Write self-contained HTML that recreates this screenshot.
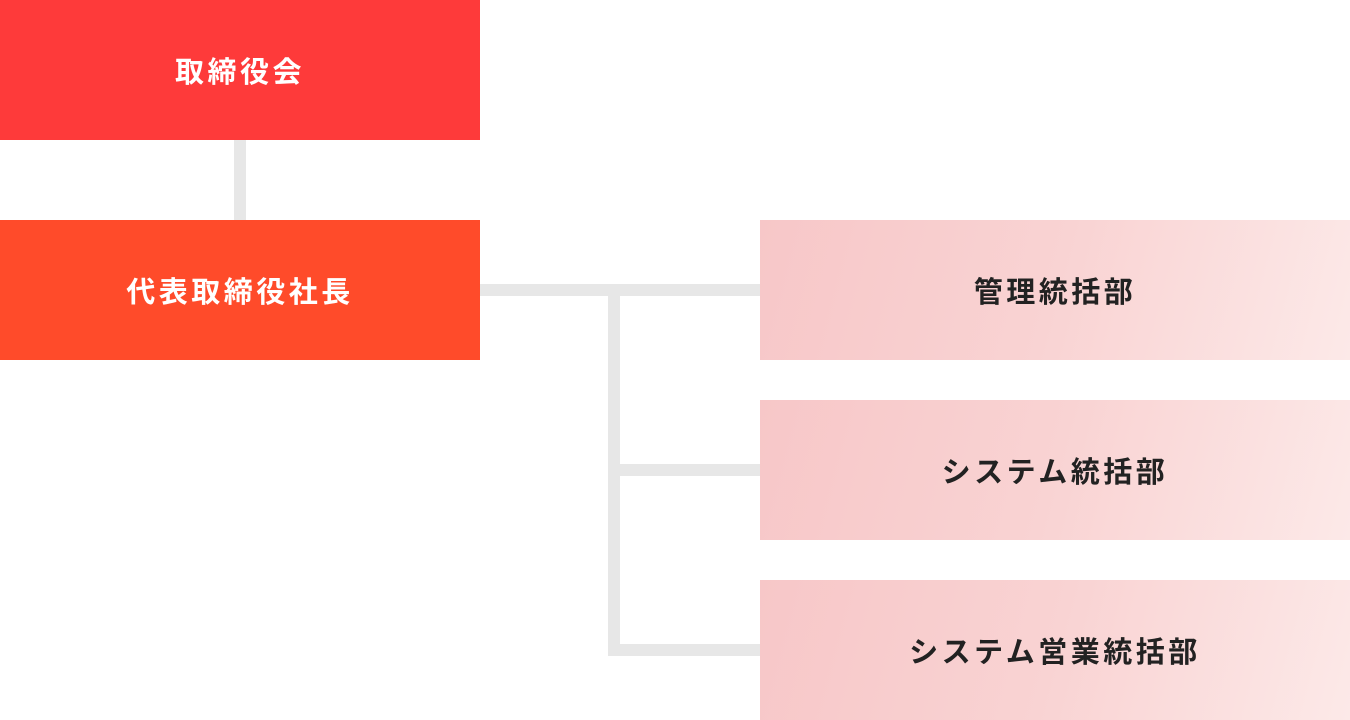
<!DOCTYPE html>
<html><head><meta charset="utf-8"><style>
body{margin:0;width:1350px;height:720px;background:#fff;position:relative;overflow:hidden;font-family:"Liberation Sans","Noto Sans CJK JP",sans-serif;font-weight:bold}
.b{position:absolute;display:flex;align-items:center;justify-content:center;letter-spacing:3.5px;font-size:29px}
.l{position:absolute;background:#e7e7e7}
.r{left:760px;width:590px;height:140px;background:linear-gradient(105deg,#f7c7c8 0%,#f9d3d3 50%,#fce9e8 100%);color:#222}
</style></head><body>
<div class="b" style="left:0;top:0;width:480px;height:140px;background:#fe3a3a;color:#fff">取締役会</div>
<div class="l" style="left:234px;top:140px;width:12px;height:80px"></div>
<div class="b" style="left:0;top:220px;width:480px;height:140px;background:#ff4b2a;color:#fff">代表取締役社長</div>
<div class="l" style="left:480px;top:284px;width:280px;height:12px"></div>
<div class="l" style="left:608px;top:290px;width:12px;height:366px"></div>
<div class="l" style="left:608px;top:464px;width:152px;height:12px"></div>
<div class="l" style="left:608px;top:644px;width:152px;height:12px"></div>
<div class="b r" style="top:220px">管理統括部</div>
<div class="b r" style="top:400px">システム統括部</div>
<div class="b r" style="top:580px">システム営業統括部</div>
</body></html>
